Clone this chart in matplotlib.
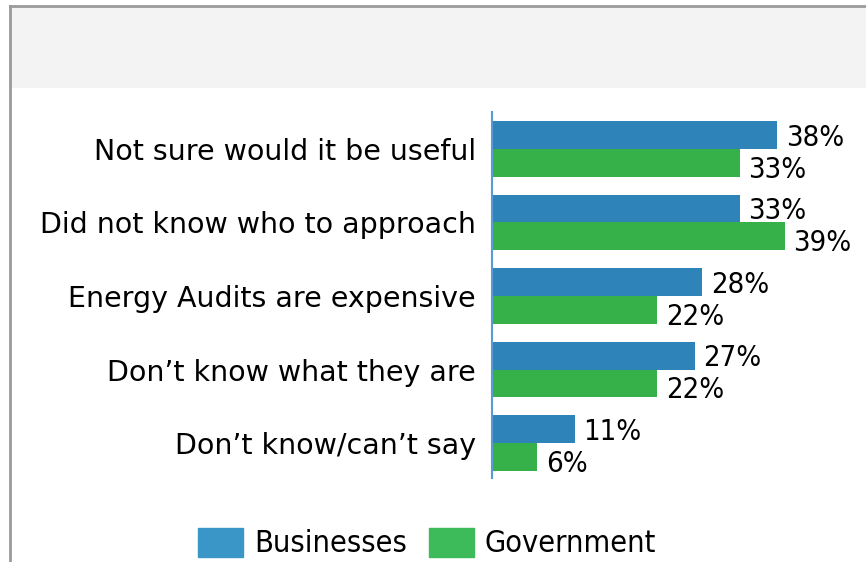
import matplotlib
matplotlib.use("Agg")
import matplotlib.pyplot as plt
from matplotlib.patches import Rectangle, Patch
from matplotlib.lines import Line2D
from matplotlib.font_manager import FontProperties

categories = [
    "Not sure would it be useful",
    "Did not know who to approach",
    "Energy Audits are expensive",
    "Don\u2019t know what they are",
    "Don\u2019t know/can\u2019t say",
]
businesses = [38, 33, 28, 27, 11]
government = [33, 39, 22, 22, 6]
series_names = ["Businesses", "Government"]

W, H = 866, 562
bar_blue = "#2e83b9"
bar_green = "#36b14a"
leg_blue = "#3a96c6"
leg_green = "#3dba5a"
val_font = FontProperties(family="DejaVu Sans", stretch="condensed", size=21)
leg_font = FontProperties(family="DejaVu Sans", stretch="condensed", size=22)

fig = plt.figure(figsize=(W / 100, H / 100), dpi=100)

# frame and header band
fig.add_artist(Rectangle((11 / W, 1 - 88 / H), 1, 81 / H, transform=fig.transFigure,
                         facecolor="#f3f3f3", edgecolor="none"))
fig.add_artist(Line2D([10 / W, 1], [1 - 5.5 / H] * 2, color="#9a9a9a", lw=2))
fig.add_artist(Line2D([10 / W] * 2, [0, 1 - 5.5 / H], color="#9a9a9a", lw=2))

ax = fig.add_axes([492 / W, (H - 478) / H, (W - 492) / W, 366 / H])
ax.patch.set_alpha(0)

ypos = list(range(len(categories)))
h = 0.38
ax.barh([y - h / 2 for y in ypos], businesses, height=h, color=bar_blue)
ax.barh([y + h / 2 for y in ypos], government, height=h, color=bar_green)

for y, b, g in zip(ypos, businesses, government):
    ax.annotate(f"{b}%", (b, y - h / 2), xytext=(6.5, -2), textcoords="offset points",
                va="center", ha="left", fontproperties=val_font)
    ax.annotate(f"{g}%", (g, y + h / 2), xytext=(6.5, -5), textcoords="offset points",
                va="center", ha="left", fontproperties=val_font)

ax.set_xlim(0, 374 / 7.5)
ax.set_ylim(4.476, -0.503)
ax.set_yticks(ypos)
ax.set_yticklabels(categories, fontsize=20.5)
ax.tick_params(axis="y", length=0, pad=11.5)
ax.set_xticks([])
for s in ["top", "right", "bottom"]:
    ax.spines[s].set_visible(False)
ax.spines["left"].set_color("#5b9bd5")
ax.spines["left"].set_linewidth(1.5)

handles = [Patch(color=leg_blue), Patch(color=leg_green)]
fig.legend(handles, series_names, loc="center", ncol=2,
           bbox_to_anchor=(427 / W, 1 - 543 / H), frameon=False,
           prop=leg_font, borderpad=0,
           handlelength=1.47, handleheight=1.08, handletextpad=0.36,
           columnspacing=0.72)

fig.savefig("out.png", dpi=100)
